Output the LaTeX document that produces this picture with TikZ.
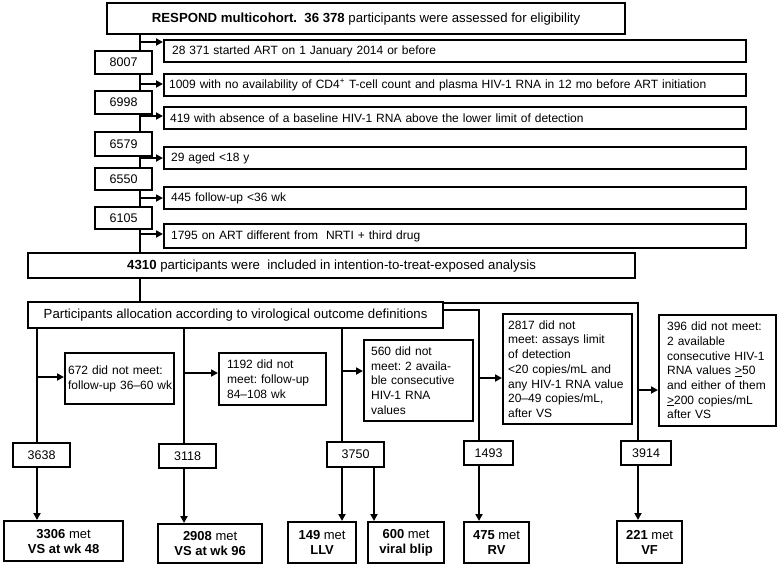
\documentclass[tikz,border=0pt]{standalone}
\usepackage{fontspec}
\setmainfont{Liberation Sans}
\usetikzlibrary{arrows.meta,backgrounds}
\frenchspacing
\begin{document}
\begin{tikzpicture}[x=1pt,y=-1pt,
  every node/.style={font=\fontsize{12}{14.7}\selectfont},
  bx/.style={draw, line width=2.2pt, fill=white, inner sep=0pt, anchor=north west},
  lbx/.style={bx, align=left},
  big/.style={font=\fontsize{13.2}{15}\selectfont},
  cnt/.style={bx, font=\fontsize{12.5}{15}\selectfont},
  res/.style={bx, align=center, font=\fontsize{13}{15}\selectfont},
  ln/.style={line width=2pt},
  arr/.style={line width=2pt, -{Triangle[length=7pt,width=7pt]}},
]
\useasboundingbox (0,0) rectangle (777,565);

% top
\node[bx, big, minimum width=518pt, minimum height=31pt] (T) at (106,2)
  {\textbf{RESPOND multicohort.~~36 378} participants were assessed for eligibility};

% exclusion boxes
\node[lbx, inner xsep=8pt, text width=566pt, minimum height=22pt] (E1) at (163,39) {28 371 started ART on 1 January 2014 or before};
\node[lbx, inner xsep=5pt, text width=572pt, minimum height=22pt] (E2) at (163,73) {1009 with no availability of CD4\textsuperscript{+} T-cell count and plasma HIV-1 RNA in 12 mo before ART initiation};
\node[lbx, inner xsep=6pt, text width=570pt, minimum height=22pt] (E3) at (163,106) {419 with absence of a baseline HIV-1 RNA above the lower limit of detection};
\node[lbx, inner xsep=7pt, text width=568pt, minimum height=22pt] (E4) at (163,146) {29 aged <18 y};
\node[lbx, inner xsep=7pt, text width=568pt, minimum height=22pt] (E5) at (163,186) {445 follow-up <36 wk};
\node[lbx, inner xsep=7pt, text width=568pt, minimum height=24pt] (E6) at (163,223) {1795 on ART different from~~NRTI + third drug};

% count boxes on trunk
\node[cnt, minimum width=57pt, minimum height=23pt] (C1) at (94,50) {8007};
\node[cnt, minimum width=57pt, minimum height=23pt] (C2) at (94,90) {6998};
\node[cnt, minimum width=57pt, minimum height=24pt] (C3) at (94,131) {6579};
\node[cnt, minimum width=57pt, minimum height=22pt] (C4) at (94,167) {6550};
\node[cnt, minimum width=57pt, minimum height=22pt] (C5) at (94,206) {6105};

% included / allocation
\node[bx, big, minimum width=607pt, minimum height=25pt] (I) at (27,252)
  {\textbf{4310} participants were~~included in intention-to-treat-exposed analysis};
\node[bx, big, minimum width=415pt, minimum height=26pt] (A) at (27,301)
  {Participants allocation according to virological outcome definitions};

% did-not-meet boxes
\node[lbx, inner xsep=3pt, text width=103pt, minimum height=51pt] (D1) at (64,352) {\mbox{672 did not meet:}\\\mbox{follow-up 36–60 wk}};
\node[lbx, inner xsep=8pt, text width=91pt, minimum height=52pt] (D2) at (218,352) {1192 did not\\meet: follow-up\\84–108 wk};
\node[lbx, inner xsep=7pt, text width=95pt, minimum height=81pt] (D3) at (363,339) {560 did not\\meet: 2 availa-\\ble consecutive\\HIV-1 RNA\\values};
\node[lbx, inner xsep=5pt, text width=119pt, minimum height=110pt] (D4) at (502,313) {2817 did not\\meet: assays limit\\of detection\\<20 copies/mL and\\\mbox{any HIV-1 RNA value}\\20–49 copies/mL,\\after VS};
\node[lbx, inner xsep=8pt, text width=101pt, minimum height=111pt] (D5) at (658,314) {396 did not meet:\\2 available\\\mbox{consecutive HIV-1}\\RNA values \underline{>}50\\\mbox{and either of them}\\\underline{>}200 copies/mL\\after VS};

% number boxes
\node[cnt, minimum width=57pt, minimum height=24pt] (N1) at (12,442) {3638};
\node[cnt, minimum width=57pt, minimum height=24pt] (N2) at (158,443) {3118};
\node[cnt, minimum width=57pt, minimum height=25pt] (N3) at (326,441) {3750};
\node[cnt, minimum width=49pt, minimum height=24pt] (N4) at (463,440) {1493};
\node[cnt, minimum width=50pt, minimum height=24pt] (N5) at (620,440) {3914};

% result boxes
\node[res, minimum width=119pt, minimum height=40pt] (R1) at (3,520) {\textbf{3306} met\\\textbf{VS at wk 48}};
\node[res, minimum width=104pt, minimum height=39pt] (R2) at (157,523) {\textbf{2908} met\\\textbf{VS at wk 96}};
\node[res, minimum width=68pt, minimum height=41pt] (R3) at (287,521) {\textbf{149} met\\\textbf{LLV}};
\node[res, minimum width=76pt, minimum height=41pt] (R4) at (367,521) {\textbf{600} met\\\textbf{viral blip}};
\node[res, minimum width=65pt, minimum height=41pt] (R5) at (463,521) {\textbf{475} met\\\textbf{RV}};
\node[res, minimum width=65pt, minimum height=42pt] (R6) at (616,520) {\textbf{221} met\\\textbf{VF}};

% coordinates
\coordinate (tx) at (140,0);
\coordinate (t1) at (140,42);
\coordinate (t2) at (140,84);
\coordinate (t3) at (140,116);
\coordinate (t4) at (140,158);
\coordinate (t5) at (140,198);
\coordinate (t6) at (140,234);
\coordinate (b1) at (37,377);
\coordinate (b2) at (184,373);
\coordinate (b3) at (342,371);
\coordinate (b3r) at (374,0);
\coordinate (k4) at (479,310);
\coordinate (b4) at (479,378);
\coordinate (k5) at (638,303);
\coordinate (b5) at (638,390);

\begin{scope}[on background layer]
  \draw[ln] (T.south -| tx) -- (I.north -| tx);
  \draw[ln] (I.south -| tx) -- (A.north -| tx);
  \draw[arr] (t1) -- (t1 -| E1.west);
  \draw[arr] (t2) -- (t2 -| E2.west);
  \draw[arr] (t3) -- (t3 -| E3.west);
  \draw[arr] (t4) -- (t4 -| E4.west);
  \draw[arr] (t5) -- (t5 -| E5.west);
  \draw[arr] (t6) -- (t6 -| E6.west);
  % branch 1
  \draw[ln] (A.south -| b1) -- (N1.north -| b1);
  \draw[arr] (b1) -- (b1 -| D1.west);
  \draw[arr] (N1.south -| b1) -- (R1.north -| b1);
  % branch 2
  \draw[ln] (A.south -| b2) -- (N2.north -| b2);
  \draw[arr] (b2) -- (b2 -| D2.west);
  \draw[arr] (N2.south -| b2) -- (R2.north -| b2);
  % branch 3
  \draw[ln] (A.south -| b3) -- (N3.north -| b3);
  \draw[arr] (b3) -- (b3 -| D3.west);
  \draw[arr] (N3.south -| b3) -- (R3.north -| b3);
  \draw[arr] (N3.south -| b3r) -- (R4.north -| b3r);
  % branch 4
  \draw[ln] (k4 -| A.east) -- (k4) -- (k4 |- N4.north);
  \draw[arr] (b4) -- (b4 -| D4.west);
  \draw[arr] (N4.south -| k4) -- (R5.north -| k4);
  % branch 5
  \draw[ln] (k5 -| A.east) -- (k5) -- (k5 |- N5.north);
  \draw[arr] (b5) -- (b5 -| D5.west);
  \draw[arr] (N5.south -| k5) -- (R6.north -| k5);
\end{scope}
\end{tikzpicture}
\end{document}
